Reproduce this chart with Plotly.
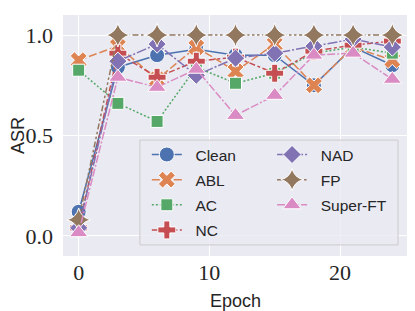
import plotly.graph_objects as go

epochs = [0, 3, 6, 9, 12, 15, 18, 21, 24]
methods = ["Clean", "ABL", "AC", "NC", "NAD", "FP", "Super-FT"]
clean = [0.12, 0.84, 0.90, 0.93, 0.90, 0.90, 0.75, 0.94, 0.85]
abl = [0.875, 0.945, 0.78, 0.94, 0.82, 0.955, 0.75, 0.94, 0.875]
ac = [0.825, 0.66, 0.57, 0.84, 0.76, 0.81, 0.91, 0.94, 0.91]
nc = [0.04, 0.91, 0.79, 0.87, 0.89, 0.81, 0.92, 0.95, 0.97]
nad = [0.04, 0.87, 0.955, 0.80, 0.885, 0.91, 0.945, 0.98, 0.94]
fp = [0.08, 1.0, 1.0, 1.0, 1.0, 1.0, 1.0, 1.0, 1.0]
superft = [0.016, 0.79, 0.74, 0.83, 0.60, 0.70, 0.90, 0.91, 0.78]
series = [clean, abl, ac, nc, nad, fp, superft]
x_ticks = [0, 10, 20]
y_ticks = [0.0, 0.5, 1.0]

colors = ["#4C72B0", "#DD8452", "#55A868", "#C44E52", "#8172B3", "#937860", "#DA8BC3"]
symbols = ["circle", "x", "square", "cross", "diamond", "star-diamond", "triangle-up"]
k = 2.0
dashes = [
    "solid",
    f"{4*k}px,{1.5*k}px",
    f"{1*k}px,{1*k}px",
    f"{3*k}px,{1.25*k}px,{1.5*k}px,{1.25*k}px",
    f"{5*k}px,{1*k}px,{1*k}px,{1*k}px",
    f"{3*k}px,{1.25*k}px,{1.25*k}px,{1.25*k}px,{1.25*k}px,{1.25*k}px",
    f"{4*k}px,{1*k}px,{4*k}px,{1*k}px,{1*k}px,{1*k}px",
]
sizes = [15, 15, 12, 15, 14, 17, 16]

NB = "\u00a0\u00a0"
fig = go.Figure()
for i, (name, ys) in enumerate(zip(methods, series)):
    fig.add_trace(go.Scatter(
        x=epochs, y=ys, name=NB + name, mode="lines+markers",
        line=dict(color=colors[i], width=1.5, dash=dashes[i]),
        marker=dict(symbol=symbols[i], size=sizes[i], color=colors[i],
                    line=dict(color="white", width=1)),
        legend="legend" if i < 4 else "legend2",
        legendgroup=name,
    ))

# legend frame (matplotlib-style)
fig.add_shape(type="rect", xref="paper", yref="paper",
              x0=0.223, x1=0.971, y0=0.046, y1=0.481,
              fillcolor="rgba(234,234,242,0.8)", line=dict(color="#CCCCCC", width=1),
              layer="above")

legend_common = dict(bgcolor="rgba(0,0,0,0)", borderwidth=0,
                     font=dict(family="Liberation Sans", size=15.5, color="#262626"),
                     xanchor="left", yanchor="top", tracegroupgap=2,
                     itemsizing="trace")
title_font = dict(family="Liberation Sans", size=18, color="#262626")
tick_font = dict(family="Liberation Serif", size=22, color="#262626")
# page body adds an 8px offset, so the figure is 8px smaller and shifted accordingly
fig.update_layout(
    width=407, height=303,
    margin=dict(l=55, r=7, t=7, b=55, autoexpand=False),
    paper_bgcolor="white", plot_bgcolor="#EAEAF2",
    showlegend=True,
    legend=dict(x=0.243, y=0.49, **legend_common),
    legend2=dict(x=0.606, y=0.49, **legend_common),
    xaxis=dict(range=[-1.2, 25.2], tickvals=x_ticks, ticktext=[str(v) for v in x_ticks],
               showgrid=True, gridcolor="white", gridwidth=1.2, zeroline=False,
               showline=False, ticks="", automargin=False, ticklabelstandoff=1,
               tickfont=tick_font,
               title=dict(text="Epoch", font=title_font, standoff=10)),
    yaxis=dict(range=[-0.1, 1.1], tickvals=y_ticks, ticktext=["0.0", "0.5", "1.0"],
               showgrid=True, gridcolor="white", gridwidth=1.2, zeroline=False,
               showline=False, ticks="", automargin=False, ticklabelstandoff=9,
               tickfont=tick_font,
               title=dict(text="ASR", font=title_font, standoff=10)),
)

fig.write_html("out.html")
